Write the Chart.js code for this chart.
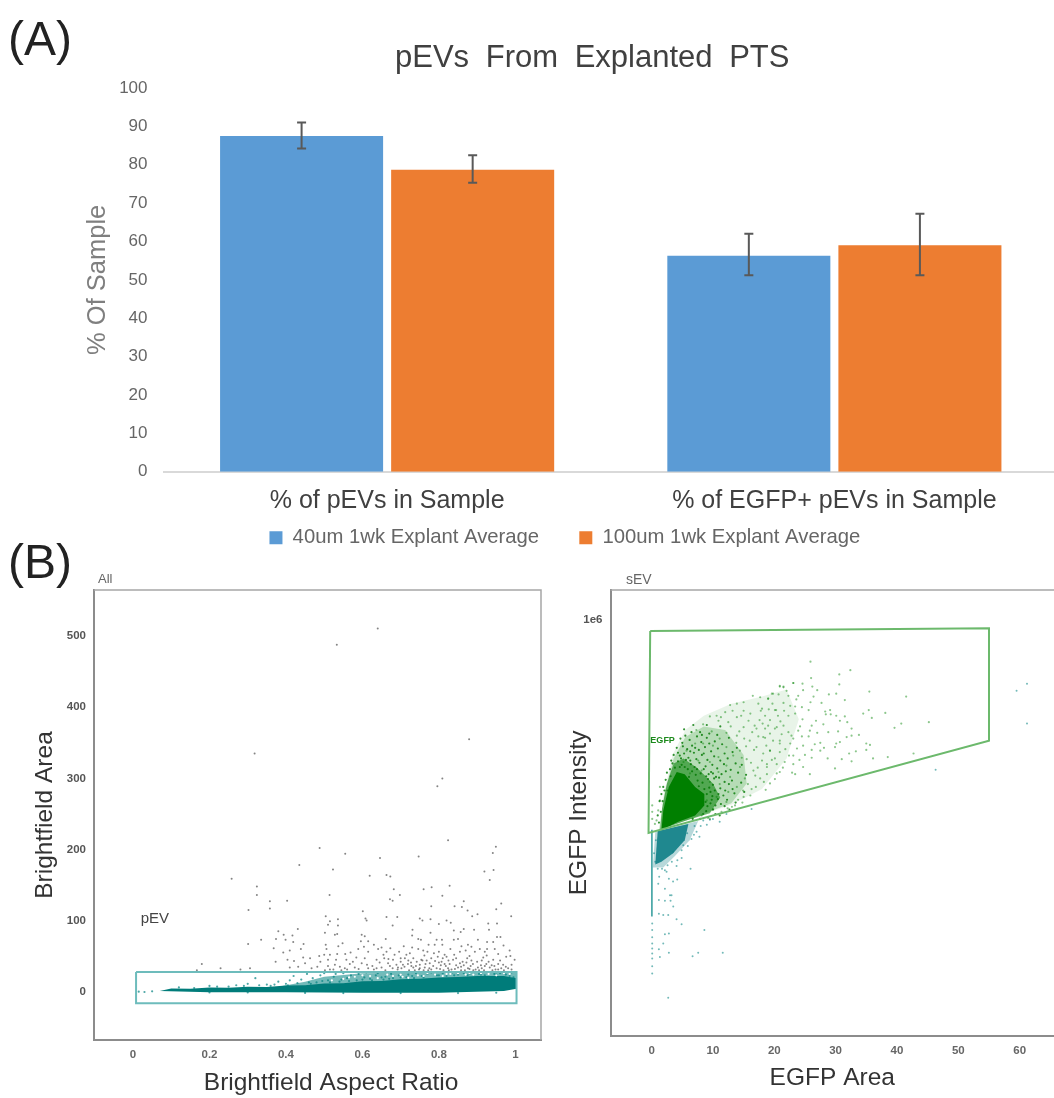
<!DOCTYPE html>
<html>
<head>
<meta charset="utf-8">
<title>pEVs From Explanted PTS</title>
<script src="https://cdn.jsdelivr.net/npm/chart.js@4"></script>
<style>
    html, body { margin: 0; background: #fff; overflow: hidden; width: 1054px; height: 1098px; }
    canvas { position: absolute; display: block; }
    .note { position: absolute; font-family: "Liberation Sans", sans-serif; white-space: nowrap; line-height: 1; }
    #panelA, #panelB { font-size: 48px; color: #222; left: 8px; }
    #panelA { top: 15px; }
    #panelB { top: 538px; }
    #barTitle { left: 395px; top: 41px; font-size: 31px; color: #404040; word-spacing: 8px; }
    #allTag { left: 98px; top: 572px; font-size: 13px; color: #666; }
    #sevTag { left: 626px; top: 572px; font-size: 14px; color: #666; }
</style>
</head>
<body>
<canvas id="barChart" width="1058" height="558" style="left:0;top:0"></canvas>
<canvas id="areaChart" width="545" height="533" style="left:0;top:565px"></canvas>
<canvas id="egfpChart" width="498" height="533" style="left:560px;top:565px"></canvas>
<div class="note" id="panelA">(A)</div>
<div class="note" id="panelB">(B)</div>
<div class="note" id="barTitle">pEVs From Explanted PTS</div>
<div class="note" id="allTag">All</div>
<div class="note" id="sevTag">sEV</div>
<script>
// Panel A
const categories = ['% of pEVs in Sample', '% of EGFP+ pEVs in Sample'];
const seriesNames = ['40um 1wk Explant Average', '100um 1wk Explant Average'];
const values40um = [87.5, 56.3];
const values100um = [78.7, 59];
const errLow40um = [84.2, 51.2];
const errHigh40um = [91, 62];
const errLow100um = [75.3, 51.2];
const errHigh100um = [82.5, 67.2];
const barTicks = [0, 10, 20, 30, 40, 50, 60, 70, 80, 90, 100];

// Panel B, left: aspect ratio against area
const areaXTicks = [0, 0.1, 0.2, 0.3, 0.4, 0.5, 0.6, 0.7, 0.8, 0.9, 1];
const areaXLabels = [0, 0.2, 0.4, 0.6, 0.8, 1];
const areaYTicks = [-50, 0, 50, 100, 150, 200, 250, 300, 350, 400, 450, 500, 550];
const areaYLabels = [0, 100, 200, 300, 400, 500];
const pevGate = [[0.008, 27.7], [1.003, 27.7], [1.003, -16.3], [0.008, -16.3], [0.008, 27.7]];
// outline of the solid part of the band
const pevBandSolid = [[0.07, 1], [0.1, 4.5], [0.15, 4], [0.2, 6], [0.25, 5.5], [0.3, 7], [0.35, 6.5], [0.4, 8.5], [0.45, 9], [0.5, 11.5], [0.55, 12], [0.6, 14.5], [0.65, 15], [0.7, 17.5], [0.75, 18], [0.8, 20], [0.85, 20.5], [0.9, 22], [0.97, 22], [1.003, 19], [1.003, 4], [0.97, 1], [0.8, -1.6], [0.6, -1.6], [0.4, -1], [0.2, -0.8], [0.07, 1]];
// outline of the speckled part just above it
const pevBandPale = [[0.38, 7], [0.45, 14], [0.5, 21], [0.6, 26], [0.75, 27], [1.003, 27], [1.003, 12], [0.6, 10], [0.38, 6], [0.38, 7]];
const pevScatter = [
    [0.38, 14], [0.405, 9], [0.41, 16], [0.42, 22], [0.44, 17], [0.455, 25], [0.47, 19], [0.48, 13], [0.49, 23], [0.5, 26], [0.51, 16], [0.525, 21], [0.53, 25], [0.54, 14], [0.55, 26],
    [0.56, 19], [0.57, 23], [0.585, 16], [0.59, 25], [0.605, 20], [0.61, 27], [0.62, 18], [0.635, 23], [0.64, 26], [0.655, 17], [0.66, 21], [0.675, 25], [0.68, 19], [0.695, 23], [0.7, 27],
    [0.715, 20], [0.72, 24], [0.735, 19], [0.74, 26], [0.755, 22], [0.77, 25], [0.78, 27], [0.795, 23], [0.81, 26], [0.82, 22], [0.835, 27], [0.85, 24], [0.865, 26], [0.875, 23], [0.89, 27],
    [0.905, 25], [0.92, 23], [0.93, 27], [0.945, 25], [0.96, 26], [0.975, 24], [0.99, 27], [0.2, 8], [0.27, 9], [0.3, 11], [0.32, 19], [0.35, 10], [0.36, 8], [0.015, 0], [0.03, -0.5], [0.05, 0.5],
    [0.12, 6], [0.16, 5], [0.22, 7], [0.25, 7], [0.29, 8], [0.33, 9], [0.37, 10], [0.4, 11], [0.43, 12], [0.46, 13], [0.465, 11], [0.495, 15], [0.515, 13], [0.545, 17], [0.565, 15], [0.6, 17],
    [0.625, 16], [0.65, 20], [0.67, 18], [0.7, 20], [0.73, 22], [0.76, 20], [0.8, 23], [0.84, 23], [0.88, 25], [0.91, 24], [0.95, 24], [0.985, 22], [0.995, 20], [0.2, -1.2], [0.3, -1.2], [0.45, -1.8], [0.55, -2], [0.7, -2], [0.85, -2], [0.95, -1.5]
];
const pevGapSpecks = [
    [0.62, 22], [0.665, 24], [0.705, 21], [0.745, 23], [0.79, 24], [0.83, 25], [0.87, 24], [0.91, 26], [0.95, 23], [0.985, 25], [0.565, 20], [0.6, 23], [0.64, 19], [0.68, 22], [0.72, 19.5],
    [0.76, 22], [0.81, 22], [0.85, 26], [0.89, 24], [0.93, 25], [0.97, 26], [0.55, 18], [0.52, 16], [0.58, 21], [0.7, 24], [0.77, 26], [0.82, 25], [0.88, 26]
];
const outlierPoints = [
    [0.533, 488], [0.64, 511], [0.318, 335], [0.879, 355], [0.809, 300], [0.796, 289], [0.824, 213], [0.949, 204], [0.941, 195], [0.747, 190], [0.646, 188], [0.555, 194], [0.488, 202],
    [0.18, 39], [0.229, 33], [0.167, 30],
    [0.258, 159], [0.435, 178], [0.523, 172], [0.619, 163], [0.324, 148], [0.324, 136], [0.514, 136], [0.358, 127], [0.403, 128], [0.302, 115], [0.358, 117], [0.601, 113], [0.504, 106], [0.608, 103], [0.611, 100],
    [0.536, 102], [0.515, 99], [0.51, 94], [0.536, 93], [0.502, 83], [0.534, 81], [0.528, 80], [0.431, 88], [0.38, 85], [0.394, 80], [0.417, 79], [0.374, 74], [0.399, 73], [0.335, 73], [0.301, 67], [0.419, 70],
    [0.598, 80], [0.606, 78], [0.596, 71], [0.615, 71], [0.504, 66], [0.548, 68], [0.537, 64], [0.506, 60], [0.439, 60], [0.368, 61], [0.393, 55], [0.41, 58], [0.446, 67], [0.604, 63], [0.63, 66], [0.641, 60],
    [0.5, 52], [0.515, 52], [0.534, 53], [0.555, 53], [0.569, 55], [0.589, 60], [0.615, 56], [0.373, 42], [0.404, 45], [0.421, 43], [0.445, 48], [0.463, 47], [0.487, 50], [0.45, 40], [0.432, 35], [0.41, 34],
    [0.467, 33], [0.49, 42], [0.51, 45], [0.531, 45], [0.558, 45], [0.584, 48], [0.606, 47], [0.626, 36], [0.637, 45], [0.482, 35], [0.51, 36], [0.541, 35], [0.567, 39], [0.598, 40], [0.615, 33], [0.281, 31],
    [0.306, 33], [0.502, 30], [0.524, 31], [0.554, 33], [0.58, 34], [0.637, 33],
    [0.663, 164], [0.673, 162], [0.682, 144], [0.698, 136], [0.672, 130], [0.679, 128], [0.76, 144], [0.781, 147], [0.828, 149], [0.809, 135], [0.919, 169], [0.943, 171], [0.933, 157], [0.963, 124], [0.95, 116],
    [0.989, 106], [0.663, 105], [0.691, 105], [0.679, 93], [0.78, 120], [0.841, 120], [0.865, 127], [0.86, 119], [0.875, 114], [0.887, 106], [0.901, 109], [0.75, 103], [0.757, 100], [0.778, 102], [0.8, 95],
    [0.82, 100], [0.831, 97], [0.929, 96], [0.952, 96], [0.731, 87], [0.73, 79], [0.778, 83], [0.839, 86], [0.857, 84], [0.865, 88], [0.892, 87], [0.931, 87], [0.661, 74], [0.746, 74], [0.753, 73], [0.794, 73],
    [0.808, 73], [0.839, 73], [0.85, 74], [0.902, 73], [0.926, 70], [0.942, 70], [0.961, 77], [0.952, 77], [0.65, 62], [0.673, 61], [0.708, 64], [0.73, 62], [0.746, 60], [0.773, 66], [0.789, 66], [0.809, 66],
    [0.859, 64], [0.876, 66], [0.885, 63], [0.907, 60], [0.926, 60], [0.946, 60], [0.969, 65], [0.985, 58], [0.663, 56], [0.696, 56], [0.724, 54], [0.759, 58], [0.787, 54], [0.815, 52], [0.855, 56], [0.894, 56],
    [0.976, 49], [0.987, 50], [0.657, 47], [0.68, 45], [0.711, 47], [0.733, 47], [0.754, 45], [0.78, 47], [0.82, 49], [0.837, 45], [0.874, 47], [0.916, 48], [0.942, 45], [0.998, 45], [0.667, 40], [0.689, 38],
    [0.719, 39], [0.75, 38], [0.776, 40], [0.807, 42], [0.828, 39], [0.855, 40], [0.889, 39], [0.924, 39], [0.955, 39], [0.65, 34], [0.679, 33], [0.702, 33], [0.733, 34], [0.763, 34], [0.794, 33], [0.824, 33],
    [0.85, 34], [0.876, 33], [0.902, 34], [0.933, 34], [0.963, 33], [0.981, 33],
    [0.66, 30], [0.672, 36], [0.692, 31], [0.71, 35], [0.722, 30], [0.742, 42], [0.748, 31], [0.768, 44], [0.772, 30], [0.785, 36], [0.8, 41], [0.812, 30], [0.818, 36], [0.833, 31], [0.845, 37], [0.862, 42], [0.868, 30],
    [0.883, 36], [0.896, 31], [0.91, 37], [0.918, 30], [0.938, 37], [0.948, 31], [0.968, 38], [0.72, 44], [0.762, 51], [0.8, 56], [0.84, 52], [0.88, 50], [0.925, 51],
    [0.515, 31], [0.528, 38], [0.545, 30], [0.56, 31], [0.575, 42], [0.59, 32], [0.612, 38], [0.63, 31], [0.645, 41], [0.655, 52], [0.668, 46], [0.684, 52], [0.7, 42], [0.715, 52], [0.727, 41], [0.74, 36],
    [0.757, 44], [0.765, 39], [0.79, 43], [0.797, 49], [0.81, 47], [0.825, 44], [0.845, 47], [0.865, 37], [0.872, 41], [0.885, 44], [0.9, 42], [0.912, 44], [0.93, 42], [0.945, 36], [0.96, 44], [0.975, 35],
    [0.99, 38], [0.693, 34], [0.706, 38], [0.737, 30], [0.78, 31], [0.826, 30], [0.858, 30], [0.89, 30], [0.94, 30], [0.97, 30], [0.99, 31], [0.76, 30], [0.803, 32], [0.842, 32], [0.905, 30], [0.955, 31],
    [0.805, 37], [0.815, 39], [0.858, 35], [0.88, 32], [0.912, 33], [0.92, 36], [0.775, 33], [0.75, 33], [0.728, 36], [0.7, 47], [0.77, 56], [0.83, 60], [0.87, 58], [0.92, 56], [0.955, 53]
];

// Panel B, right: EGFP area against log10 of EGFP intensity
const egfpXTicks = [-5, 0, 5, 10, 15, 20, 25, 30, 35, 40, 45, 50, 55, 60, 65];
const egfpXLabels = [0, 10, 20, 30, 40, 50, 60];
const egfpYTicks = [
    2e6, 1e6, 9e5, 8e5, 7e5, 6e5, 5e5, 4e5, 3e5, 2e5, 1e5, 9e4, 8e4, 7e4, 6e4, 5e4, 4e4, 3e4, 2e4, 1e4, 9e3, 8e3, 7e3, 6e3, 5e3, 4e3, 3e3, 2e3, 1e3,
    366, 130, 65, 43, 32.5, 26, 21.7, 18.6, 16.2, 14.4, 13, 6.5, 4.3, 3.25, 2.6, 2.17, 1.86
];
const egfpYLabels = { 1000000: '1e6' };
const egfpGate = [[-0.23, 5.842], [55, 5.878], [55, 4.299], [-0.5, 3.003], [-0.23, 5.842]];
const greenSolid = [[1.63, 3.06], [1.9, 3.32], [2.8, 3.65], [4.1, 3.86], [5.4, 3.83], [7.1, 3.65], [8.6, 3.55], [8.6, 3.39], [7.1, 3.25], [4.35, 3.16], [1.74, 3.05], [1.63, 3.06]];
const greenMid = [[1.4, 3.05], [1.7, 3.35], [2.5, 3.7], [3.6, 3.98], [5.2, 4.05], [7.4, 3.92], [10, 3.7], [11.2, 3.5], [9.5, 3.28], [5.4, 3.17], [1.4, 3.05]];
const greenHaze = [[1.2, 3.05], [2.2, 3.6], [3.6, 4.05], [5.5, 4.35], [8.5, 4.5], [12, 4.45], [15, 4.1], [15.5, 3.7], [13, 3.42], [5.4, 3.17], [1.2, 3.05]];
const greenVeil = [[1.6, 3.4], [3.4, 4.1], [5.5, 4.45], [8.5, 4.65], [13, 4.82], [18, 4.92], [22, 5.02], [24, 4.6], [22, 4.05], [18, 3.62], [13, 3.4], [5.4, 3.17], [1.6, 3.4]];
const tealSolid = [[1, 3.03], [6, 3.13], [5.4, 2.9], [3.5, 2.72], [1.6, 2.6], [0.6, 2.56], [0.8, 2.8], [1, 3.03]];
const tealHaze = [[0.6, 3.02], [7.6, 3.17], [6.2, 2.9], [3.8, 2.68], [1.9, 2.52], [0.2, 2.52], [0.6, 3.02]];
const tealStem = [[0.05, 3.05], [0.05, 1.83]];
const greenPoints = [
    [25.9, 5.41], [30.6, 5.23], [32.4, 5.29], [26, 5.18], [23.1, 5.11], [24.6, 5.1], [30.6, 5.09], [20.9, 5.07], [21.5, 5.06], [26.2, 5.06], [27, 5.01], [24.7, 5.01], [19.8, 4.96], [22.3, 4.93], [23.9, 4.93], [26.4, 4.92],
    [30.1, 4.96], [35.5, 4.99], [41.5, 4.92], [23.6, 4.88], [19, 4.89], [31.5, 4.87], [25.9, 4.84], [21.5, 4.83], [19.7, 4.82], [22.6, 4.79], [24.5, 4.77], [23.4, 4.78], [20.3, 4.73], [21.6, 4.72], [25.6, 4.73], [28.3, 4.71],
    [29.1, 4.73], [17.8, 4.72], [22.3, 4.65], [23.4, 4.68], [28.4, 4.67], [29.2, 4.67], [30.1, 4.65], [31.5, 4.64], [34.5, 4.68], [35.4, 4.73], [38.1, 4.69], [35.9, 4.62], [19.3, 4.59], [21, 4.57], [24.6, 4.6], [26.1, 4.51],
    [30.7, 4.58], [21.5, 4.51], [28, 4.53], [32.6, 4.47], [40.7, 4.54], [39.6, 4.48], [20.1, 4.47], [23.9, 4.44], [22.3, 4.42], [22.8, 4.37], [25.8, 4.44], [28.8, 4.42], [30.4, 4.43], [31.8, 4.35], [32.6, 4.37], [18.5, 4.47],
    [19.3, 4.4], [27, 4.41], [24.5, 4.36], [25.6, 4.36], [30.7, 4.28], [30.1, 4.26], [27.5, 4.27], [26.6, 4.25], [24.7, 4.23], [23.1, 4.33], [18.5, 4.34], [19.8, 4.3], [20.9, 4.26], [22.6, 4.26], [23.7, 4.19], [26.1, 4.17],
    [27.5, 4.16], [29.9, 4.21], [35, 4.26], [35.6, 4.24], [33.3, 4.15], [35, 4.17], [32.2, 4.12], [28.7, 4.05], [31, 4.04], [32.6, 4.01], [36.1, 4.05], [38.5, 4.07], [42.7, 4.12], [26.1, 4.06], [24.1, 4.03], [23.1, 4.09],
    [20.9, 4.14], [19.3, 4.16], [18.2, 4.12], [20.1, 4.05], [21.7, 4], [18.8, 3.97], [20.4, 3.97], [23.1, 3.97], [24.7, 3.93], [29.9, 3.91], [25.8, 3.83], [23.4, 3.83], [20.9, 3.86], [18.8, 3.83], [45.2, 4.56],
    [20.9, 5.06], [21.5, 5.05], [23.1, 5.11], [19.6, 4.96], [20.7, 4.95], [22, 5], [16.5, 4.93], [17.7, 4.91], [19, 4.89], [15, 4.84], [13.9, 4.82], [12.8, 4.8], [17.4, 4.82], [18, 4.75], [20.1, 4.73], [15, 4.72], [12, 4.7],
    [10.6, 4.65], [9.5, 4.64], [18.5, 4.65], [13.9, 4.63], [12.5, 4.56], [10.9, 4.58], [8.4, 4.53], [7.3, 4.45], [9.8, 4.43], [12.2, 4.41], [15, 4.49], [16.8, 4.51], [19, 4.51], [20.4, 4.49], [13.9, 4.37], [11.1, 4.33], [16, 4.3],
    [18.2, 4.35], [20.9, 4.3], [8.4, 4.26], [7.1, 4.26], [10, 4.23], [12.2, 4.21], [14.4, 4.16], [17.1, 4.21], [19.3, 4.16], [5.7, 4.16], [10.9, 4.07], [13.3, 4.09], [15.5, 4.04], [18, 4.02], [7.6, 4.02], [9.5, 4], [5.2, 4],
    [12.2, 3.95], [14.4, 3.93], [16.6, 3.88], [18.8, 3.93], [20.4, 3.84], [10.9, 3.86], [8.15, 3.88], [6.25, 3.84], [12.8, 3.79], [15.2, 3.77], [17.7, 3.77], [19.3, 3.7], [9.5, 3.72], [11.1, 3.69], [13.9, 3.65], [16.3, 3.62],
    [12.5, 3.58], [15, 3.51], [10.6, 3.51], [9, 3.46], [12.2, 3.44], [13.6, 3.39], [10.05, 3.34], [11.4, 3.3], [8.15, 3.25], [9.5, 3.2],
    [1.36, 3.65], [0.1, 3.39], [0.1, 3.3], [0.1, 3.2], [1.08, 3.32], [0.81, 3.18], [1.36, 3.46], [0.54, 3.13],
    [13.2, 4.72], [14.6, 4.65], [16.1, 4.68], [11.3, 4.63], [12.9, 4.5], [14.3, 4.43], [15.8, 4.58], [17.6, 4.59], [16.4, 4.42], [17.4, 4.36], [18.7, 4.23], [15.1, 4.33], [16.7, 4.17], [15.4, 4.22], [13.8, 4.27], [14.7, 4.06],
    [16.2, 3.99], [17.3, 3.92], [19.6, 4.03], [21.8, 4.18], [22.4, 4.09], [24.2, 4.5], [26.8, 4.58], [27.7, 4.83], [28.9, 4.95], [20.6, 4.65], [19.1, 4.74], [17.1, 4.47], [18.1, 4.54], [21.2, 4.39], [16.9, 3.81], [18.3, 3.72],
    [15.7, 3.69], [14.9, 3.6], [17, 3.65], [18.6, 3.61], [16.1, 3.53], [14.1, 3.47], [13.1, 3.37], [12.4, 3.35], [14.8, 3.43], [20.1, 3.76], [21.4, 3.92], [22.9, 3.85], [25, 4.1], [28.1, 4.2], [31.9, 4.56], [33.8, 4.38]
];
const greenDarkPoints = [
    [6.2, 4.31], [7.4, 4.36], [8.1, 4.28], [9, 4.34], [10.3, 4.29], [11.5, 4.25], [5.1, 4.22], [5.8, 4.18], [6.6, 4.23], [7.7, 4.17], [8.7, 4.21], [9.7, 4.15], [10.8, 4.19], [11.9, 4.12], [13.2, 4.14], [4.6, 4.09], [5.3, 4.12],
    [6, 4.06], [6.9, 4.13], [7.3, 4.04], [8.2, 4.1], [9.1, 4.03], [10.2, 4.08], [11.2, 4.02], [12.4, 4.05], [13.7, 3.98], [4.3, 4.01], [4.9, 3.96], [5.6, 4.03], [6.4, 3.97], [7, 3.93], [7.8, 3.99], [8.8, 3.94], [9.9, 3.96],
    [10.7, 3.91], [11.8, 3.97], [12.9, 3.89], [14.1, 3.85], [3.8, 3.92], [4.6, 3.93], [5.9, 3.9], [6.6, 3.87], [7.2, 3.82], [8, 3.84], [8.9, 3.8], [9.7, 3.86], [10.5, 3.79], [11.4, 3.83], [13.1, 3.74], [14.6, 3.71], [6.1, 3.79],
    [7.5, 3.74], [8.3, 3.71], [9.2, 3.76], [10, 3.68], [11.9, 3.72], [7.7, 3.66], [8.6, 3.62], [9.4, 3.64], [10.3, 3.6], [11.2, 3.63], [13.5, 3.56], [9, 3.55], [9.9, 3.52], [10.8, 3.48], [11.7, 3.53], [8.8, 3.44], [9.6, 3.42], [10.4, 3.39],
    [11.3, 3.41], [7.5, 3.33], [8.9, 3.31], [7.9, 3.2], [6.7, 3.2], [4.3, 4.13], [5, 4.27], [3.4, 3.98], [3.1, 3.8], [2.6, 3.6], [1.8, 3.45], [2.1, 3.6],
    [5.5, 4.37], [6.5, 4.42], [7.9, 4.42], [9.4, 4.4], [10.7, 4.38], [8.5, 4.12], [9.4, 4.26], [6.3, 4.15], [7.1, 4.2], [4.8, 4.05], [5.4, 3.93], [10, 3.84], [11, 3.78], [12.1, 3.87], [12.6, 3.69], [13.2, 3.62], [12, 3.6], [10.9, 3.55],
    [9.8, 3.47], [9.1, 3.38], [10, 3.33], [8.4, 3.27], [11.1, 3.25], [6.3, 4.02], [7.4, 3.9], [8.5, 3.9], [9.3, 3.83], [10.2, 3.77], [9.6, 3.58], [12.3, 3.47], [11.9, 3.38], [8.2, 4.38], [3.6, 4.1], [3, 3.9], [2.3, 3.75], [1.6, 3.55],
    [1.5, 3.3], [1.2, 3.15], [4.1, 4.2], [4.7, 4.33], [5.3, 4.46], [6.8, 4.52], [9, 4.52], [11.2, 4.5], [12.6, 4.34], [13.9, 4.2], [14.7, 3.96], [15.4, 3.82], [15.1, 3.58], [13.7, 3.43], [12.7, 3.33], [10.4, 3.27], [9.2, 3.22],
    [2.5, 3.85], [3.2, 4.02], [1.9, 3.65], [1.3, 3.45], [1, 3.25]
];
const tealPoints = [
    [1.24, 2.39], [1.08, 2.29], [2.82, 2.36], [4.18, 2.35], [3.5, 2.32], [2.17, 2.22], [3, 2.13], [3.25, 2.13], [2.17, 2.05], [3.09, 2.05], [1.19, 2.06], [3.53, 1.97], [1.19, 1.87], [1.9, 1.85], [2.71, 1.85], [4.07, 1.79],
    [4.89, 1.72], [8.6, 1.64], [2.17, 1.58], [2.82, 1.59], [1.9, 1.45], [1.19, 1.37], [2.82, 1.32], [1.35, 1.26], [6.68, 1.27], [7.6, 1.32], [11.6, 1.32], [2.71, 0.69], [6.35, 2.5], [4.07, 2.54], [2.17, 2.48], [2.44, 2.46],
    [0.1, 1.73], [0.1, 1.64], [0.1, 1.54], [0.1, 1.45], [0.1, 1.38], [0.1, 1.31], [0.1, 1.24], [0.1, 1.13], [0.1, 1.03],
    [8.42, 3.18], [9.5, 3.19], [11.1, 3.16], [12.2, 3.27], [7.33, 3.02], [6.5, 2.92], [5.16, 2.83], [4.89, 2.76], [3.53, 2.74], [16.3, 3.34], [46.3, 3.89], [61.2, 5.1], [59.5, 5], [61.2, 4.54],
    [7, 3.1], [8, 3.1], [9, 3.12], [10, 3.2], [6.9, 2.98], [7.8, 2.95], [5.8, 3], [5.9, 2.82], [4.9, 2.65], [4.2, 2.62], [3.3, 2.6], [2.6, 2.55], [1.7, 2.5], [1, 2.5], [0.6, 2.6], [0.4, 2.72], [0.7, 2.9]
];

const toXY = pts => pts.map(([x, y]) => ({ x: x, y: y }));
const toLogXY = pts => pts.map(([x, e]) => ({ x: x, y: Math.pow(10, e) }));

const tickFont = { family: 'Liberation Sans', size: 11.5, weight: 'bold' };
const titleFont = { family: 'Liberation Sans', size: 24.5 };

// Draws the error bars for panel A through the chart's own scales
const errorBars = {
    id: 'errorBars',
    afterDatasetsDraw(chart) {
        const ctx = chart.ctx;
        const y = chart.scales.y;
        const low = [errLow40um, errLow100um];
        const high = [errHigh40um, errHigh100um];
        ctx.save();
        ctx.strokeStyle = '#595959';
        ctx.lineWidth = 2;
        chart.data.datasets.forEach((ds, i) => {
            chart.getDatasetMeta(i).data.forEach((bar, j) => {
                const top = y.getPixelForValue(high[i][j]);
                const bottom = y.getPixelForValue(low[i][j]);
                ctx.beginPath();
                ctx.moveTo(bar.x, top);
                ctx.lineTo(bar.x, bottom);
                ctx.moveTo(bar.x - 4.5, top);
                ctx.lineTo(bar.x + 4.5, top);
                ctx.moveTo(bar.x - 4.5, bottom);
                ctx.lineTo(bar.x + 4.5, bottom);
                ctx.stroke();
            });
        });
        ctx.restore();
    }
};

// Top and right edges of the flow plots, and the gate captions
const plotFrame = {
    id: 'plotFrame',
    afterDraw(chart, args, opts) {
        const ctx = chart.ctx;
        const a = chart.chartArea;
        ctx.save();
        ctx.strokeStyle = '#a6a6a6';
        ctx.lineWidth = 1.5;
        ctx.beginPath();
        ctx.moveTo(a.left, a.top);
        ctx.lineTo(a.right, a.top);
        if (opts.right) ctx.lineTo(a.right, a.bottom);
        ctx.stroke();
        ctx.font = opts.font;
        ctx.fillStyle = opts.color;
        ctx.textBaseline = 'middle';
        ctx.fillText(opts.text, chart.scales.x.getPixelForValue(opts.x), chart.scales.y.getPixelForValue(opts.y));
        ctx.restore();
    }
};

function pointSet(data, color, radius, order) {
    return { data: data, pointRadius: radius, pointBackgroundColor: color, pointBorderWidth: 0, showLine: false, order: order };
}

function shapeSet(data, color, order) {
    return { data: data, showLine: true, fill: 'shape', backgroundColor: color, borderColor: 'transparent', borderWidth: 0, pointRadius: 0, order: order };
}

function lineSet(data, color, width, order) {
    return { data: data, showLine: true, fill: false, borderColor: color, borderWidth: width, pointRadius: 0, order: order };
}

function flowOptions(o) {
    return {
        responsive: false,
        animation: false,
        layout: { padding: { left: o.padLeft, top: 25 } },
        plugins: {
            legend: { display: false },
            tooltip: { enabled: false },
            plotFrame: o.frame
        },
        scales: {
            x: {
                type: 'linear',
                min: o.xMin,
                max: o.xMax,
                afterBuildTicks: s => { s.ticks = o.xTicks.map(v => ({ value: v })); },
                afterFit: s => { s.height = o.xHeight; },
                grid: { display: false, drawTicks: true, tickLength: 4, tickColor: '#777' },
                border: { color: '#8c8c8c', width: 2 },
                ticks: {
                    autoSkip: false,
                    maxRotation: 0,
                    padding: 4,
                    color: '#666',
                    font: tickFont,
                    callback: v => (o.xLabels.includes(v) ? String(v) : '')
                },
                title: { display: true, text: o.xTitle, color: '#333', font: titleFont, padding: { top: 0, bottom: o.xTitlePad } }
            },
            y: {
                type: o.yType,
                min: o.yMin,
                max: o.yMax,
                afterBuildTicks: s => { s.ticks = o.yTicks.map(v => ({ value: v })); },
                afterFit: s => { s.width = o.yWidth; },
                grid: { display: false, drawTicks: true, tickLength: 4, tickColor: '#777' },
                border: { color: '#8c8c8c', width: 2 },
                ticks: {
                    autoSkip: false,
                    padding: 4,
                    color: '#555',
                    font: tickFont,
                    callback: o.yLabel
                },
                title: { display: true, text: o.yTitle, color: '#333', font: titleFont, padding: 0 }
            }
        }
    };
}

new Chart(document.getElementById('barChart').getContext('2d'), {
    type: 'bar',
    plugins: [errorBars],
    data: {
        labels: categories,
        datasets: [
            // trailing spaces keep the two legend entries apart without adding height to the legend
            { label: seriesNames[0] + '     ', data: values40um, backgroundColor: '#5b9bd5', barPercentage: 0.953, categoryPercentage: 0.765 },
            { label: seriesNames[1] + '  ', data: values100um, backgroundColor: '#ed7d31', barPercentage: 0.953, categoryPercentage: 0.765 }
        ]
    },
    options: {
        responsive: false,
        animation: false,
        layout: { padding: { left: 83, top: 88 } },
        plugins: {
            tooltip: { enabled: false },
            legend: {
                position: 'bottom',
                labels: { boxWidth: 13, boxHeight: 13, padding: 12, color: '#666', font: { family: 'Liberation Sans', size: 20.3 } }
            }
        },
        scales: {
            x: {
                afterFit: s => { s.height = 44; },
                grid: { display: false, drawTicks: false },
                border: { color: '#d9d9d9', width: 2 },
                ticks: { autoSkip: false, maxRotation: 0, padding: 14, color: '#404040', font: { family: 'Liberation Sans', size: 25 } }
            },
            y: {
                min: 0,
                max: 100,
                afterBuildTicks: s => { s.ticks = barTicks.map(v => ({ value: v })); },
                afterFit: s => { s.width = 80.5; },
                grid: { display: false, drawTicks: false },
                border: { display: false },
                ticks: { padding: 16, color: '#666', font: { family: 'Liberation Sans', size: 17 } },
                title: { display: true, text: '% Of Sample', color: '#7f7f7f', font: { family: 'Liberation Sans', size: 25.5 }, padding: 0 }
            }
        }
    }
});

new Chart(document.getElementById('areaChart').getContext('2d'), {
    type: 'scatter',
    plugins: [plotFrame],
    data: {
        datasets: [
            lineSet(toXY(pevGate), '#6dbcbc', 2, 0),
            pointSet(toXY(pevGapSpecks), '#ffffff', 1.1, 1),
            pointSet(toXY(pevScatter), 'rgba(0,130,128,0.7)', 1.1, 2),
            shapeSet(toXY(pevBandSolid), '#007c7a', 3),
            shapeSet(toXY(pevBandPale), 'rgba(0,130,128,0.55)', 4),
            pointSet(toXY(outlierPoints), 'rgba(50,50,50,0.6)', 1, 5)
        ]
    },
    options: flowOptions({
        padLeft: 30.5,
        xMin: -0.102,
        xMax: 1.067,
        yMin: -68,
        yMax: 565,
        xTicks: areaXTicks,
        xLabels: areaXLabels,
        yTicks: areaYTicks,
        yType: 'linear',
        yLabel: v => (areaYLabels.includes(v) ? String(v) : ''),
        xHeight: 58,
        xTitlePad: 0,
        yWidth: 63.5,
        xTitle: '    Brightfield Aspect Ratio',
        yTitle: 'Brightfield Area',
        frame: { right: true, text: 'pEV', x: 0.02, y: 103, font: '15px "Liberation Sans"', color: '#444' }
    })
});

new Chart(document.getElementById('egfpChart').getContext('2d'), {
    type: 'scatter',
    plugins: [plotFrame],
    data: {
        datasets: [
            lineSet(toLogXY(egfpGate), '#6cb96c', 2, 0),
            shapeSet(toLogXY(greenSolid), '#007f00', 1),
            pointSet(toLogXY(greenDarkPoints), 'rgba(0,120,0,0.8)', 1.1, 2),
            shapeSet(toLogXY(greenMid), 'rgba(0,125,0,0.55)', 3),
            pointSet(toLogXY(greenPoints), 'rgba(0,130,0,0.45)', 1.1, 4),
            shapeSet(toLogXY(greenHaze), 'rgba(0,130,0,0.22)', 5),
            shapeSet(toLogXY(greenVeil), 'rgba(0,130,0,0.09)', 6),
            shapeSet(toLogXY(tealSolid), 'rgba(14,127,134,0.9)', 7),
            shapeSet(toLogXY(tealHaze), 'rgba(18,127,133,0.3)', 8),
            lineSet(toLogXY(tealStem), '#2f9a9a', 1.5, 9),
            pointSet(toLogXY(tealPoints), 'rgba(0,130,128,0.55)', 1, 10)
        ]
    },
    options: flowOptions({
        padLeft: 4.5,
        xMin: -6.7,
        xMax: 65.6,
        yMin: 1.43,
        yMax: 2.61e6,
        xTicks: egfpXTicks,
        xLabels: egfpXLabels,
        yTicks: egfpYTicks,
        yType: 'logarithmic',
        yLabel: v => egfpYLabels[v] || '',
        xHeight: 62.3,
        xTitlePad: 5.5,
        yWidth: 46,
        xTitle: 'EGFP Area',
        yTitle: 'EGFP Intensity',
        frame: { right: false, text: 'EGFP', x: -0.2, y: 20000, font: 'bold 9px "Liberation Sans"', color: '#1c8a1c' }
    })
});
</script>
</body>
</html>
